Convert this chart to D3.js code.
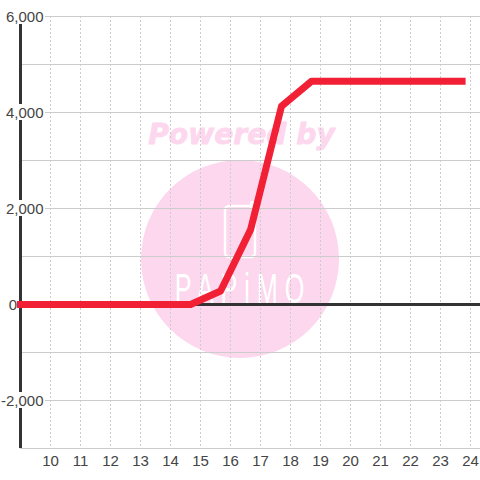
<!DOCTYPE html>
<html>
<head>
<meta charset="utf-8">
<script src="https://cdnjs.cloudflare.com/ajax/libs/d3/7.8.5/d3.min.js"></script>
<style>
html, body { margin: 0; padding: 0; background: #fff; }
svg { display: block; font-family: "Liberation Sans", Arial, sans-serif; }
</style>
</head>
<body>
<svg id="chart" width="480" height="480"></svg>
<script>
const hours = [9, 10, 11, 12, 13, 14, 14.67, 15.67, 16.67, 17.7, 18.7, 19.7, 20.7, 21.7, 22.7, 23.72];
const sales = [0, 0, 0, 0, 0, 0, 0, 280, 1560, 4130, 4650, 4650, 4650, 4650, 4650, 4650];
const x_ticks = [10, 11, 12, 13, 14, 15, 16, 17, 18, 19, 20, 21, 22, 23, 24];
const y_ticks = [-2000, 0, 2000, 4000, 6000];
const y_grid = [-3000, -2000, -1000, 0, 1000, 2000, 3000, 4000, 5000, 6000];

const svg = d3.select('#chart');
const x = d3.scaleLinear().domain([9, 25]).range([20.5, 500.5]);
const y = d3.scaleLinear().domain([-3000, 6000]).range([448.5, 16.5]);
const fmt = d3.format(',');
const mark_color = '#fcd7ee';

// watermark goes under the grid
const mark = svg.append('g');
mark.append('circle').attr('cx', 240).attr('cy', 259).attr('r', 99).attr('fill', mark_color);
mark.append('text').attr('x', 241.5).attr('y', 144).attr('text-anchor', 'middle')
    .attr('font-family', 'DejaVu Sans').attr('font-weight', 'bold').attr('font-style', 'italic')
    .attr('font-size', 28.2).attr('fill', mark_color).attr('stroke', mark_color).attr('stroke-width', 0.8)
    .text('Powered by');
mark.append('rect').attr('x', 225).attr('y', 206).attr('width', 30).attr('height', 51).attr('rx', 4)
    .attr('fill', 'none').attr('stroke', '#fff').attr('stroke-width', 2.5);
mark.append('rect').attr('x', 250).attr('y', 201).attr('width', 5).attr('height', 8).attr('rx', 2).attr('fill', '#fff');
// squeezed sideways, the logo lettering is tall and thin
mark.append('text').attr('transform', 'translate(243,303) scale(0.6,1)').attr('text-anchor', 'middle')
    .attr('font-size', 42).attr('letter-spacing', 11.6).attr('fill', '#fff').text('PAPiMO');

// grid
svg.append('g').selectAll('line').data(y_grid).join('line')
    .attr('x1', 20).attr('x2', 480).attr('y1', d => y(d)).attr('y2', d => y(d))
    .attr('stroke', '#cccccc').attr('stroke-width', 1);
svg.append('g').selectAll('line').data(x_ticks).join('line')
    .attr('x1', d => x(d)).attr('x2', d => x(d)).attr('y1', 16).attr('y2', 448)
    .attr('stroke', '#cccccc').attr('stroke-dasharray', '2,2');

// axis lines
svg.append('line').attr('x1', 20.5).attr('x2', 20.5).attr('y1', 16).attr('y2', 448)
    .attr('stroke', '#333').attr('stroke-width', 3);
svg.append('line').attr('x1', 20).attr('x2', 480).attr('y1', y(0)).attr('y2', y(0))
    .attr('stroke', '#333').attr('stroke-width', 3);

// tick labels with white backing, the 0 label has none and sits left of the axis
const y_labels = svg.append('g').selectAll('g').data(y_ticks).join('g');
y_labels.filter(d => d !== 0).append('rect').attr('x', d => d < 0 ? 2 : 6).attr('y', d => y(d) - 8.5)
    .attr('width', d => d < 0 ? 43 : 39).attr('height', 16).attr('fill', '#fff');
y_labels.append('text').attr('x', d => d === 0 ? 17 : 43.5).attr('y', d => y(d) + 5).attr('text-anchor', 'end')
    .attr('font-size', 15).attr('fill', '#444').text(d => fmt(d).replace('\u2212', '-'));
svg.append('g').selectAll('text').data(x_ticks).join('text')
    .attr('x', d => x(d)).attr('y', 466).attr('text-anchor', 'middle')
    .attr('font-size', 15).attr('fill', '#444').text(d => d);

// series
svg.append('path').datum(hours.map((h, i) => [h, sales[i]]))
    .attr('fill', 'none').attr('stroke', '#f12035').attr('stroke-width', 7)
    .attr('stroke-linejoin', 'round').attr('stroke-linecap', 'square')
    .attr('d', d3.line().x(d => x(d[0])).y(d => y(d[1])));
</script>
</body>
</html>
